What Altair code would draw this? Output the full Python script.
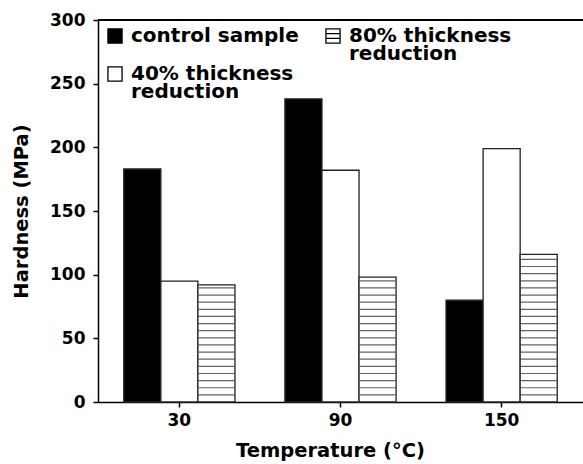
import altair as alt
import pandas as pd
import numpy as np

temps = ["30", "90", "150"]
series = ["control sample", "40% thickness reduction", "80% thickness reduction"]
control = [183, 238, 80]
red40 = [95, 182, 199]
red80 = [92, 98, 116]
hatch_step = 5.6

rows = []
for i, t in enumerate(temps):
    for s, vals in zip(series, [control, red40, red80]):
        rows.append({"temp": t, "series": s, "hardness": vals[i]})
df = pd.DataFrame(rows)

hrows = []
for i, t in enumerate(temps):
    lvl = hatch_step
    while lvl < red80[i] - 1.5:
        hrows.append({"temp": t, "series": series[2], "level": lvl})
        lvl += hatch_step
hdf = pd.DataFrame(hrows)

FONT = "DejaVu Sans"
HATCH_PATH = "M-1,-1H1V1H-1ZM-1,-0.33H1M-1,0.33H1"

common_axis = dict(labelFont=FONT, titleFont=FONT, labelFontWeight="bold",
                   titleFontWeight="bold", labelColor="black", titleColor="black",
                   labelFontSize=17, titleFontSize=19.5, tickSize=5,
                   domainColor="black", tickColor="black", domainWidth=1.5, tickWidth=1.5)
xaxis = alt.Axis(labelAngle=0, labelPadding=5, titlePadding=13, titleX=232, **common_axis)
yaxis = alt.Axis(values=[0, 50, 100, 150, 200, 250, 300], grid=False,
                 labelPadding=8, titlePadding=18, **common_axis)
xscale = alt.Scale(paddingInner=0.31, paddingOuter=0.16)
yscale = alt.Scale(domain=[0, 300], nice=False)

xenc = alt.X("temp:N", sort=temps, title="Temperature (°C)", scale=xscale, axis=xaxis)
xoff = alt.XOffset("series:N", scale=alt.Scale(domain=series, paddingInner=0, paddingOuter=0))
yenc = alt.Y("hardness:Q", title="Hardness (MPa)", scale=yscale, axis=yaxis)

leg = alt.Legend(
    title=None, orient="none", legendX=7, legendY=6, columns=2,
    columnPadding=24, rowPadding=0, symbolSize=200, symbolOpacity=1,
    symbolStrokeColor="black", symbolStrokeWidth=1.3,
    labelFont=FONT, labelFontSize=20, labelFontWeight="bold",
    labelColor="black", labelLimit=400, labelOffset=6,
    labelExpr=("indexof(datum.label, ' reduction') >= 0 ? "
               "split(replace(datum.label, ' reduction', '|reduction'), '|') : "
               "[datum.label, ' ']"),
)
fill_scale = alt.Scale(domain=series, range=["black", "white", "white"])
stroke_scale = alt.Scale(domain=series, range=["black", "black", "black"])
shape_scale = alt.Scale(domain=series, range=["square", "square", HATCH_PATH])

bars = alt.Chart(df).mark_bar(stroke="#222", strokeWidth=1.3).encode(
    x=xenc,
    xOffset=xoff,
    y=yenc,
    fill=alt.Fill("series:N", scale=fill_scale, legend=leg),
)

keys = alt.Chart(df).mark_point(opacity=0, filled=True, strokeWidth=1.3).encode(
    x=xenc,
    xOffset=xoff,
    y=yenc,
    fill=alt.Fill("series:N", scale=fill_scale, legend=leg),
    stroke=alt.Stroke("series:N", scale=stroke_scale, legend=leg),
    shape=alt.Shape("series:N", scale=shape_scale, legend=leg),
)

hatch = alt.Chart(hdf).mark_tick(orient="horizontal", thickness=1.2, size=36, color="#222").encode(
    x=xenc,
    xOffset=xoff,
    y=alt.Y("level:Q", title="Hardness (MPa)", scale=yscale, axis=yaxis),
)

top = alt.Chart(df).mark_rule(color="black", strokeWidth=1.5).encode(y=alt.datum(300))

chart = alt.layer(bars, hatch, keys, top).properties(
    width=485, height=382,
    padding={"left": 98, "top": 20, "right": 0, "bottom": 62},
    autosize=alt.AutoSizeParams(type="none"),
).configure_view(stroke=None).configure(
    style={"guide-label": {"font": FONT, "fontWeight": "bold", "fontSize": 17,
                           "fill": "black", "lineHeight": 18},
           "guide-title": {"font": FONT, "fontWeight": "bold", "fontSize": 19.5,
                           "fill": "black"}}
)

chart.save("out.html", embed_options={"renderer": "svg", "actions": False})
